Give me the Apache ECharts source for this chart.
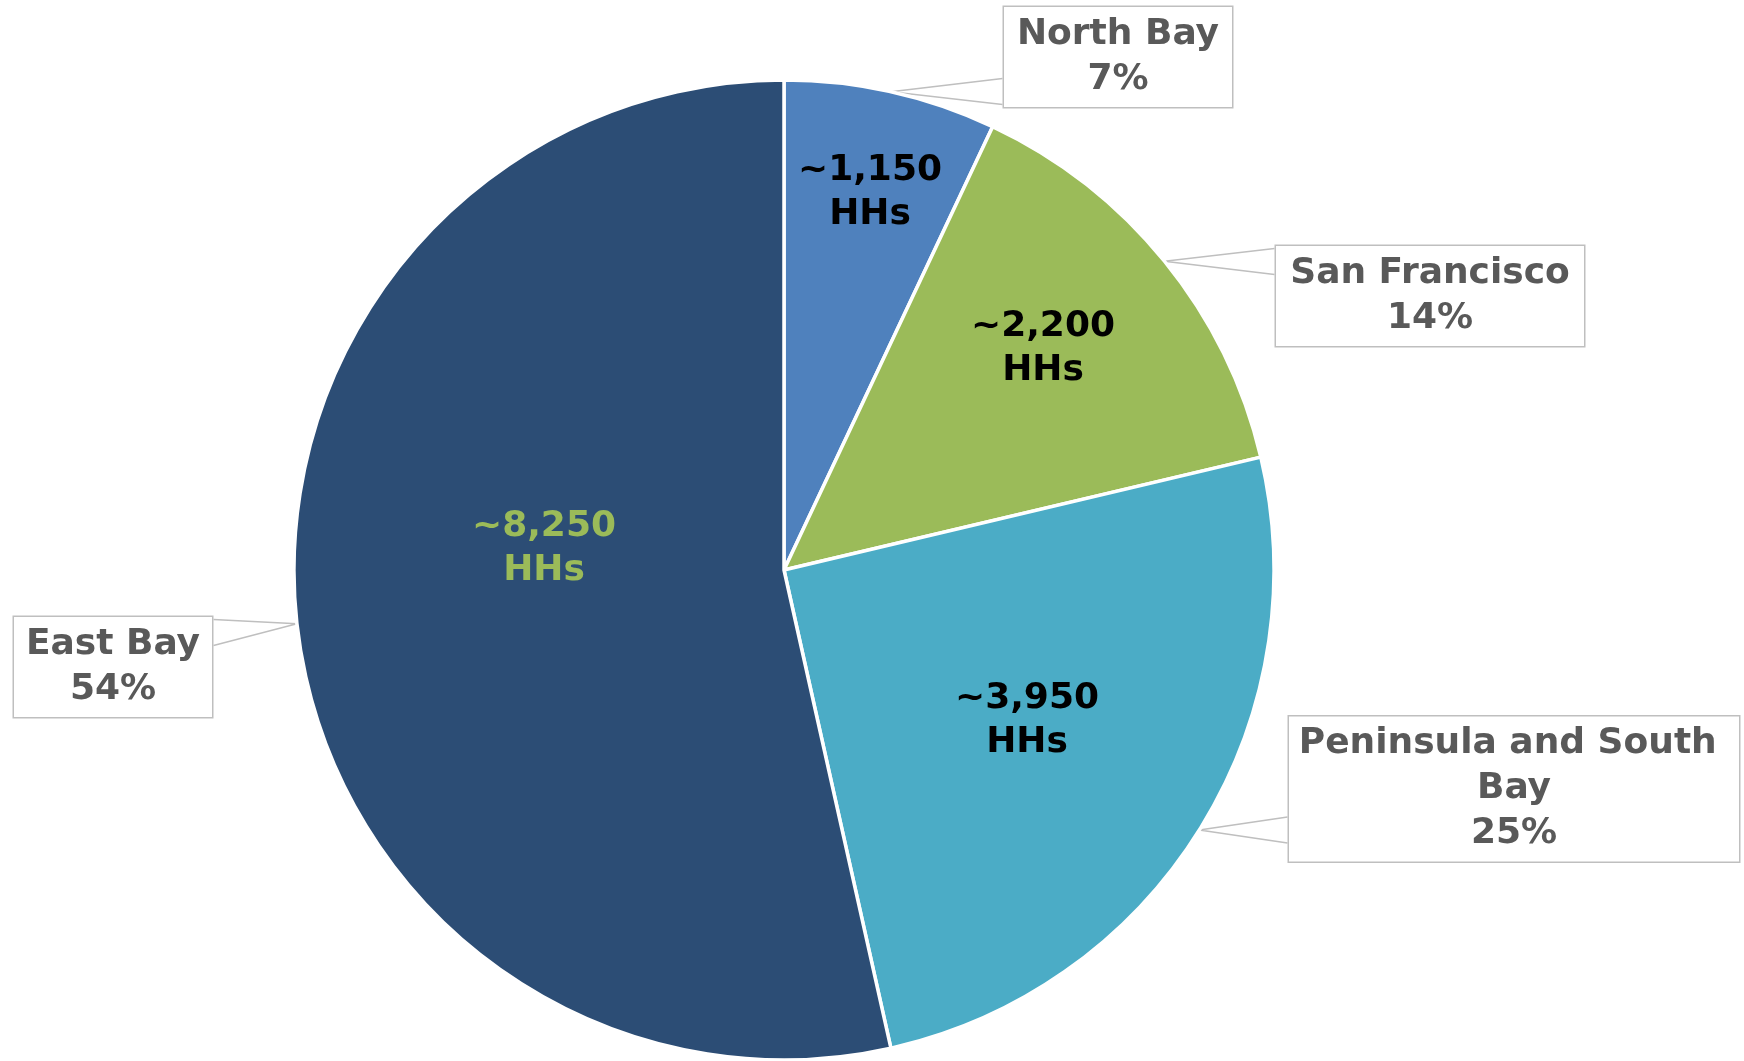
<!DOCTYPE html>
<html>
<head>
<meta charset="utf-8">
<script src="https://cdn.jsdelivr.net/npm/echarts@6/dist/echarts.min.js"></script>
<style>
  html, body { margin: 0; padding: 0; background: #fff; }
  #chart { width: 1744px; height: 1061px; }
</style>
</head>
<body>
<div id="chart"></div>
<script>
// regions, clockwise from 12 o'clock
const regions = ["North Bay", "San Francisco", "Peninsula and South Bay", "East Bay"];
// slice share (angles), in percent
const sliceShare = [7.0, 14.3, 25.2, 53.5];
// printed labels
const shareLabels = ["7%", "14%", "25%", "54%"];
const hhLabels = ["~1,150", "~2,200", "~3,950", "~8,250"];
const colors = ["#4F81BD", "#9BBB59", "#4BACC6", "#2C4D75"];

const CX = 784, CY = 570, R = 490;
const FONT = "DejaVu Sans, Verdana, sans-serif";

const chart = echarts.init(document.getElementById("chart"));

const total = sliceShare.reduce((s, v) => s + v, 0);
const midAngle = sliceShare.map((v, i) => {
  const before = sliceShare.slice(0, i).reduce((s, x) => s + x, 0);
  return ((before + v / 2) / total) * Math.PI * 2;
});
const edgePoint = (i) => [CX + R * Math.sin(midAngle[i]), CY - R * Math.cos(midAngle[i])];

// label layout (box centres, inner label centres) - presentation only
const boxCentre = [[1118, 57], [1430, 296], [1514, 789], [113, 667]];
const boxWidth = [220, 300, 442, 190];
const innerCentre = [[870, 193], [1043, 349], [1027, 721], [544, 549]];

const data = regions.map((name, i) => ({
  name,
  value: sliceShare[i],
  itemStyle: { color: colors[i] },
  label: { width: boxWidth[i] },
}));

const option = {
  animation: false,
  series: [
    {
      type: "pie",
      center: [CX, CY],
      radius: R,
      startAngle: 90,
      clockwise: true,
      avoidLabelOverlap: false,
      itemStyle: { borderColor: "#fff", borderWidth: 3.5 },
      label: {
        show: true,
        position: "outside",
        formatter: (p) => p.name + "\n" + shareLabels[p.dataIndex],
        fontFamily: FONT,
        fontWeight: "bold",
        fontSize: 36,
        lineHeight: 45,
        color: "#595959",
        align: "center",
        overflow: "break",
        backgroundColor: "#fff",
        borderColor: "#BFBFBF",
        borderWidth: 1.5,
        padding: [9, 4, 1, 4],
      },
      labelLine: { show: true, length: 20, length2: 20, lineStyle: { color: "#BFBFBF", width: 1.5 } },
      labelLayout: (p) => {
        const i = p.dataIndex;
        const [bx, by] = boxCentre[i];
        const w = p.labelRect.width, h = p.labelRect.height;
        const tip = edgePoint(i);
        const edgeX = bx > CX || i === 0 ? bx - w / 2 : bx + w / 2;
        let y1 = tip[1] - 13, y2 = tip[1] + 13;
        const top = by - h / 2 + 4, bot = by + h / 2 - 4;
        if (y1 < top) { y2 += top - y1; y1 = top; }
        if (y2 > bot) { y1 -= y2 - bot; y2 = bot; }
        return {
          x: bx, y: by, align: "center", verticalAlign: "middle",
          labelLinePoints: [[edgeX, y1], tip, [edgeX, y2]],
        };
      },
      data,
    },
    {
      type: "pie",
      center: [CX, CY],
      radius: R,
      startAngle: 90,
      clockwise: true,
      silent: true,
      avoidLabelOverlap: false,
      itemStyle: { color: "rgba(0,0,0,0)", borderWidth: 0 },
      label: {
        show: true,
        position: "inside",
        formatter: (p) => hhLabels[p.dataIndex] + "\nHHs",
        fontFamily: FONT,
        fontWeight: "bold",
        fontSize: 36,
        lineHeight: 44,
        color: "#000",
        align: "center",
      },
      labelLine: { show: false },
      labelLayout: (p) => {
        const [x, y] = innerCentre[p.dataIndex];
        return { x, y, align: "center", verticalAlign: "middle" };
      },
      data: regions.map((name, i) => ({
        name,
        value: sliceShare[i],
        label: { color: i === 3 ? "#9BBB59" : "#000" },
      })),
    },
  ],
};

chart.setOption(option);
</script>
</body>
</html>
